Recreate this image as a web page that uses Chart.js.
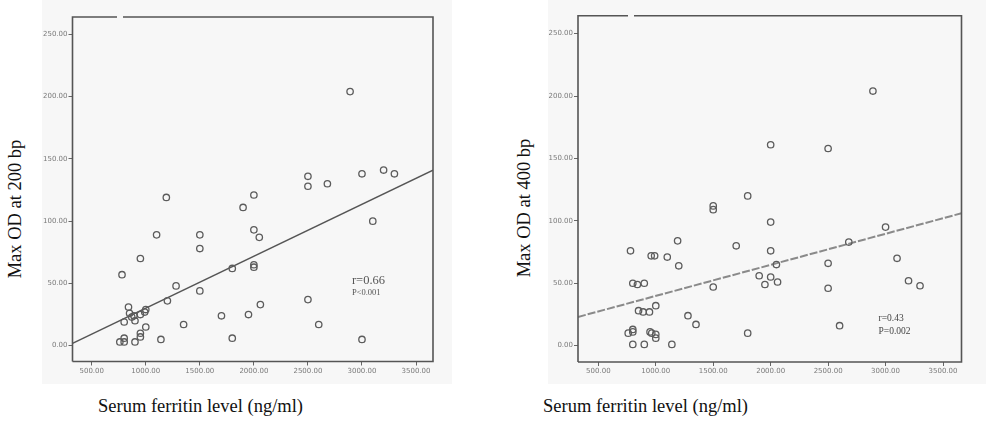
<!DOCTYPE html>
<html>
<head>
<meta charset="utf-8">
<script src="https://cdn.jsdelivr.net/npm/chart.js@4/dist/chart.umd.min.js"></script>
<style>
  body { margin: 0; width: 986px; height: 422px; background: #fff; position: relative; overflow: hidden; }
  .scan { position: absolute; top: 0; height: 384px; background: #f7f7f7; }
  .lbl { position: absolute; font-family: "Liberation Serif", "Times New Roman", serif; font-size: 18.5px; color: #111; white-space: nowrap; }
  .ylbl { transform: translate(-50%, -50%) rotate(-90deg); }
  .xlbl { transform: translateY(-50%); }
</style>
</head>
<body>
<div class="scan" style="left:42px;width:410px"><canvas id="c200"></canvas></div>
<div class="scan" style="left:548px;width:438px"><canvas id="c400"></canvas></div>
<div class="lbl ylbl" style="left:15px;top:209px">Max OD at 200 bp</div>
<div class="lbl ylbl" style="left:524px;top:208px">Max OD at 400 bp</div>
<div class="lbl xlbl" style="left:98px;top:406px">Serum ferritin level (ng/ml)</div>
<div class="lbl xlbl" style="left:543px;top:406px">Serum ferritin level (ng/ml)</div>
<script>
// tick values shared by both panels
var xTicks = [500, 1000, 1500, 2000, 2500, 3000, 3500];
var yTicks = [0, 50, 100, 150, 200, 250];

// Max OD at 200 bp vs serum ferritin
var ferritin200 = [2890, 2500, 2500, 2680, 3000, 3200, 3300, 3100, 1190, 2000,
  1900, 2000, 2050, 1100, 1500, 1500, 950, 780, 1800, 2000,
  2000, 1280, 1500, 1200, 2500, 2060, 840, 850, 1000, 990,
  950, 890, 870, 800, 900, 1950, 1700, 1350, 2600, 1000,
  950, 950, 800, 800, 760, 900, 1140, 1800, 3000];
var od200 = [204, 136, 128, 130, 138, 141, 138, 100, 119, 121,
  111, 93, 87, 89, 89, 78, 70, 57, 62, 65,
  63, 48, 44, 36, 37, 33, 31, 26, 29, 27,
  25, 24, 23, 19, 20, 25, 24, 17, 17, 15,
  10, 7, 6, 3, 3, 3, 5, 6, 5];
var fit200X = [322, 3657];
var fit200Y = [1.8, 140.9];

// Max OD at 400 bp vs serum ferritin
var ferritin400 = [2890, 2000, 2500, 1800, 1500, 1500, 2000, 3000, 1190, 2680,
  1700, 780, 2000, 960, 990, 1100, 3100, 1200, 2050, 2500,
  1900, 2000, 2060, 1950, 3200, 3300, 2500, 1500, 800, 840,
  900, 1000, 850, 890, 945, 1280, 1350, 2600, 1800, 760,
  800, 800, 950, 965, 1000, 1000, 800, 900, 1140];
var od400 = [204, 161, 158, 120, 112, 109, 99, 95, 84, 83,
  80, 76, 76, 72, 72, 71, 70, 64, 65, 66,
  56, 55, 51, 49, 52, 48, 46, 47, 50, 49,
  50, 32, 28, 27, 27, 24, 17, 16, 10, 10,
  13, 11, 11, 10, 9, 6, 1, 1, 1];
var fit400X = [323, 3661];
var fit400Y = [23.0, 106.1];

function pts(xs, ys) {
  return xs.map(function(x, i) { return { x: x, y: ys[i] }; });
}

// plot frame (top line has a small scan gap) + r / P note
var framePlugin = {
  id: 'frame',
  afterDraw: function(chart, args, opts) {
    var a = chart.chartArea, c = chart.ctx;
    c.save();
    c.strokeStyle = '#555';
    c.lineWidth = 1.6;
    c.beginPath();
    c.moveTo(a.left, a.bottom); c.lineTo(a.left, a.top); c.lineTo(opts.gap[0], a.top);
    c.moveTo(opts.gap[1], a.top); c.lineTo(a.right, a.top); c.lineTo(a.right, a.bottom); c.lineTo(a.left, a.bottom);
    c.stroke();
    var xs = chart.scales.x, ys = chart.scales.y;
    var px = xs.getPixelForValue(opts.note.x), py = ys.getPixelForValue(opts.note.y);
    c.fillStyle = opts.note.color;
    c.textBaseline = 'middle';
    c.font = opts.note.size1 + 'px "Liberation Serif", serif';
    c.fillText(opts.note.r, px, py);
    c.font = opts.note.size2 + 'px "Liberation Serif", serif';
    c.fillText(opts.note.p, px, py + opts.note.dy);
    c.restore();
  }
};

function makeChart(id, w, area, xs, ys, fitX, fitY, range, lineStyle, frameOpts) {
  var canvas = document.getElementById(id);
  canvas.width = w; canvas.height = 384;
  canvas.style.width = w + 'px'; canvas.style.height = '384px';
  return new Chart(canvas, {
    type: 'scatter',
    data: {
      datasets: [{
        data: pts(xs, ys),
        pointStyle: 'circle',
        pointRadius: 3.2,
        pointBorderWidth: 1.3,
        pointBorderColor: '#5c5c5c',
        pointBackgroundColor: 'rgba(0,0,0,0)'
      }, {
        type: 'line',
        data: pts(fitX, fitY),
        borderColor: lineStyle.color,
        borderWidth: lineStyle.width,
        borderDash: lineStyle.dash,
        pointRadius: 0,
        fill: false
      }]
    },
    options: {
      responsive: false,
      animation: false,
      layout: { padding: { left: 0, top: area.top, right: w - area.right, bottom: 0 } },
      plugins: { legend: { display: false }, tooltip: { enabled: false }, frame: frameOpts },
      scales: {
        x: {
          type: 'linear', min: range.x[0], max: range.x[1],
          afterBuildTicks: function(ax) { ax.ticks = xTicks.map(function(v) { return { value: v }; }); },
          afterFit: function(ax) { ax.height = 384 - area.bottom; },
          grid: { drawOnChartArea: false, drawTicks: true, tickLength: 4, color: '#666', lineWidth: 1 },
          border: { display: false },
          ticks: { autoSkip: false, maxRotation: 0, padding: 1, color: '#7a7a7a',
                   font: { size: 7, family: 'DejaVu Sans' },
                   callback: function(v) { return v.toFixed(2); } }
        },
        y: {
          type: 'linear', min: range.y[0], max: range.y[1],
          afterBuildTicks: function(ax) { ax.ticks = yTicks.map(function(v) { return { value: v }; }); },
          afterFit: function(ax) { ax.width = area.left; },
          grid: { drawOnChartArea: false, drawTicks: true, tickLength: 4, color: '#666', lineWidth: 1 },
          border: { display: false },
          ticks: { autoSkip: false, padding: 1, color: '#7a7a7a',
                   font: { size: 7, family: 'DejaVu Sans' },
                   callback: function(v) { return v.toFixed(2); } }
        }
      }
    },
    plugins: [framePlugin]
  });
}

makeChart('c200', 410, { left: 30.5, right: 391, top: 17, bottom: 361.5 },
  ferritin200, od200, fit200X, fit200Y,
  { x: [322, 3657], y: [-12.7, 263.9] },
  { color: '#555', width: 1.5, dash: [] },
  { gap: [75, 81], note: { x: 2907, y: 52, r: 'r=0.66', p: 'P<0.001', size1: 12.5, size2: 8.5, dy: 12, color: '#555' } });

makeChart('c400', 438, { left: 30, right: 413.5, top: 15.7, bottom: 362 },
  ferritin400, od400, fit400X, fit400Y,
  { x: [323, 3661], y: [-13.1, 264.4] },
  { color: '#8a8a8a', width: 2, dash: [8, 2] },
  { gap: [80, 86], note: { x: 2939, y: 22, r: 'r=0.43', p: 'P=0.002', size1: 9.5, size2: 9.5, dy: 13, color: '#444' } });
</script>
</body>
</html>
